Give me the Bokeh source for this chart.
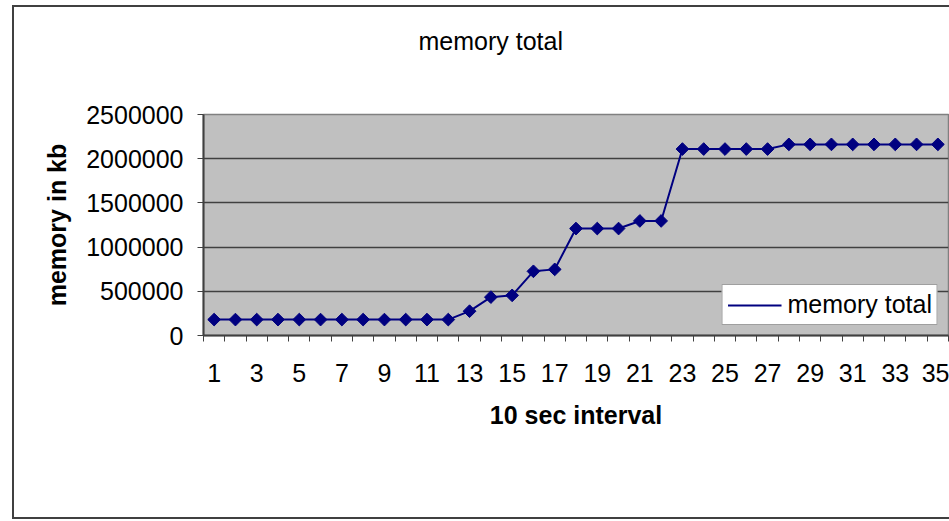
import math
from bokeh.plotting import figure
from bokeh.models import (Legend, LegendItem, FixedTicker, InlineStyleSheet,
                          Range1d, ColumnDataSource, BasicTickFormatter)
from bokeh.embed import file_html
from bokeh.resources import INLINE

# ---- data ----
intervals = [1, 2, 3, 4, 5, 6, 7, 8, 9, 10, 11, 12, 13, 14, 15, 16, 17, 18,
             19, 20, 21, 22, 23, 24, 25, 26, 27, 28, 29, 30, 31, 32, 33, 34, 35]
memory_total = [180000, 180000, 180000, 180000, 180000, 180000, 180000, 180000,
                180000, 180000, 180000, 180000, 275000, 434000, 454000, 726000,
                748000, 1210000, 1210000, 1210000, 1296000, 1296000, 2109000,
                2109000, 2109000, 2109000, 2109000, 2162000, 2162000, 2162000,
                2162000, 2162000, 2162000, 2162000, 2162000]
x_tick_labels = [1, 3, 5, 7, 9, 11, 13, 15, 17, 19, 21, 23, 25, 27, 29, 31, 33, 35]
y_ticks = [0, 500000, 1000000, 1500000, 2000000, 2500000]
series_name = "memory total"
chart_title = "memory total"
x_title = "10 sec interval"
y_title = "memory in kb"

FONT = "Liberation Sans"
FS = "25px"
NAVY = "#000080"
DARK = "#404040"

W, H = 949, 521
FL, FR, FT, FB = 203, 948, 114, 335  # frame edges in canvas pixels

p = figure(width=W, height=H, output_backend="svg", toolbar_location=None,
           frame_width=FR - FL, frame_height=FB - FT,
           x_range=Range1d(0.5, len(intervals) + 0.5),
           y_range=Range1d(y_ticks[0], y_ticks[-1]),
           min_border_left=FL, min_border_right=W - FR,
           min_border_top=FT, min_border_bottom=H - FB)
p.background_fill_color = "#C0C0C0"
p.border_fill_color = "white"
p.outline_line_color = "#808080"
p.outline_line_width = 1.5

# outer chart border (drawn with CSS over the canvas)
p.stylesheets = [InlineStyleSheet(css="""
:host { position: relative; }
:host::after { content: ""; position: absolute; left: 12px; top: 5px;
  width: 1000px; height: 514px; border: 2px solid #404040;
  box-sizing: border-box; pointer-events: none; z-index: 10; }
""")]

# title
p.title.text = chart_title
p.title.text_font = FONT
p.title.text_font_size = FS
p.title.text_font_style = "normal"
p.title.text_color = "black"
p.title.align = "left"
p.title.offset = 215
p.title.vertical_align = "bottom"
if "padding" in p.title.properties():
    p.title.standoff = 0
    p.title.padding = dict(left=0, right=0, top=0, bottom=60)
else:
    p.title.standoff = 80

# grid
p.xgrid.visible = False
p.ygrid.ticker = FixedTicker(ticks=y_ticks)
p.ygrid.grid_line_color = DARK
p.ygrid.grid_line_width = 1.5

# y axis
yax = p.yaxis[0]
yax.ticker = FixedTicker(ticks=y_ticks)
yax.formatter = BasicTickFormatter(use_scientific=False)
yax.axis_line_color = DARK
yax.axis_line_width = 2
yax.major_tick_line_color = DARK
yax.major_tick_out = 6
yax.major_tick_in = 0
yax.minor_tick_line_color = None
yax.major_label_standoff = 14
yax.major_label_text_font = FONT
yax.major_label_text_font_size = FS
yax.major_label_text_color = "black"
yax.axis_label = y_title
yax.axis_label_text_font = FONT
yax.axis_label_text_font_size = FS
yax.axis_label_text_font_style = "bold"
yax.axis_label_text_color = "black"
yax.axis_label_standoff = 12

# x axis
xax = p.xaxis[0]
xax.ticker = FixedTicker(ticks=x_tick_labels,
                         minor_ticks=[i - 0.5 for i in intervals] + [intervals[-1] + 0.5])
xax.axis_line_color = DARK
xax.axis_line_width = 2
xax.major_tick_line_color = None
xax.major_tick_out = 0
xax.major_tick_in = 0
xax.minor_tick_line_color = DARK
xax.minor_tick_out = 6
xax.minor_tick_in = 0
xax.major_label_standoff = 22
xax.major_label_text_font = FONT
xax.major_label_text_font_size = FS
xax.major_label_text_color = "black"
xax.axis_label = x_title
xax.axis_label_text_font = FONT
xax.axis_label_text_font_size = FS
xax.axis_label_text_font_style = "bold"
xax.axis_label_text_color = "black"
xax.axis_label_standoff = 16

src = ColumnDataSource(dict(x=intervals, y=memory_total))
line_r = p.line("x", "y", source=src, line_color=NAVY, line_width=2)
mark_r = p.scatter("x", "y", source=src, marker="square", size=9, angle=math.pi / 4,
                   fill_color=NAVY, line_color=NAVY)
# diamond used only for the legend sample (no data points of its own)
legend_mark = p.scatter(x=[], y=[], marker="diamond", fill_color=NAVY, line_color=NAVY)

legend = Legend(items=[LegendItem(label=series_name, renderers=[line_r, legend_mark])],
                location="bottom_right", orientation="vertical",
                label_text_font=FONT, label_text_font_size=FS, label_text_color="black",
                glyph_width=54, glyph_height=28, label_standoff=6,
                padding=5, margin=10, spacing=0,
                border_line_color=DARK, border_line_width=1,
                background_fill_color="white", background_fill_alpha=1)
p.add_layout(legend, "center")

open("out.html", "w").write(file_html(p, INLINE))
